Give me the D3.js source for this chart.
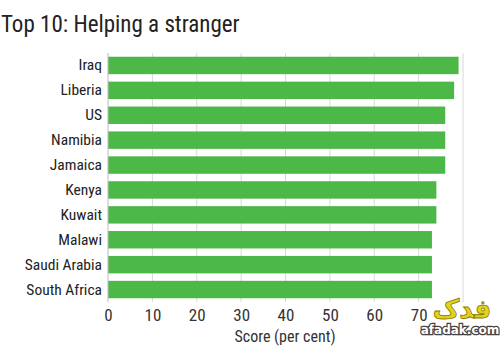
<!DOCTYPE html>
<html><head><meta charset="utf-8">
<script src="https://cdn.jsdelivr.net/npm/d3@7"></script>
<style>body{margin:0;background:#fff}</style>
</head><body>
<svg id="c" width="500" height="350"></svg>
<script>
const countries = ["Iraq","Liberia","US","Namibia","Jamaica","Kenya","Kuwait","Malawi","Saudi Arabia","South Africa"];
const scores = [79,78,76,76,76,74,74,73,73,73];
const ticks = [0,10,20,30,40,50,60,70,80];
const tickLabels = [0,10,20,30,40,50,60,70];
const titleText = "Top 10: Helping a stranger";
const axisTitle = "Score (per cent)";

const font = "'Liberation Sans Narrow','Roboto Condensed','DejaVu Sans Condensed',sans-serif";
const svg = d3.select("#c");
const m = {left:108, right:37, top:53, bottom:50};
const W = 500, H = 350;
const x = d3.scaleLinear().domain([0,80]).range([m.left, W - m.right]);
const y = d3.scaleBand().domain(countries).range([m.top, 302]).paddingInner(0.3).paddingOuter(0.15);

svg.append("text").attr("x",1).attr("y",32).attr("font-family",font)
  .attr("font-size",23).attr("fill","#222").text(titleText);

// gridlines
svg.append("g").selectAll("line").data(ticks.slice(1)).join("line")
  .attr("x1",d=>x(d)).attr("x2",d=>x(d)).attr("y1",m.top).attr("y2",302)
  .attr("stroke","#d8d8d8").attr("stroke-width",1);

svg.append("g").selectAll("rect").data(countries).join("rect")
  .attr("x",x(0)).attr("y",d=>y(d)).attr("height",y.bandwidth())
  .attr("width",(d,i)=>x(scores[i])-x(0)).attr("fill","#4cb848");

// axis line
svg.append("line").attr("x1",x(0)).attr("x2",x(0)).attr("y1",m.top).attr("y2",302)
  .attr("stroke","#bbb");

const yAxis = svg.append("g").attr("transform",`translate(${x(0)-4},0)`)
  .call(d3.axisLeft(y).tickSize(0).tickPadding(2));
yAxis.select(".domain").remove();
yAxis.selectAll("text").attr("font-family",font).attr("font-size",15.5).attr("fill","#222");

const xAxis = svg.append("g").attr("transform",`translate(0,306)`)
  .call(d3.axisBottom(x).tickValues(tickLabels).tickSize(0).tickPadding(3).tickFormat(d3.format("d")));
xAxis.select(".domain").remove();
xAxis.selectAll("text").attr("font-family",font).attr("font-size",17).attr("fill","#333");

svg.append("text").attr("x",285).attr("y",342).attr("text-anchor","middle")
  .attr("font-family",font).attr("font-size",16).attr("fill","#333").text(axisTitle);

// watermark
svg.append("text").attr("x",462).attr("y",318).attr("text-anchor","middle")
  .attr("font-family","'DejaVu Sans',sans-serif").attr("font-size",26).attr("font-weight","bold")
  .attr("fill","#e3d21c").attr("stroke","#8a7a00").attr("stroke-width",0.8).text("فدک");
svg.append("text").attr("x",460).attr("y",334).attr("text-anchor","middle")
  .attr("font-family","'DejaVu Sans',sans-serif").attr("font-size",12).attr("font-weight","bold")
  .attr("fill","#fff").attr("stroke","#444").attr("stroke-width",2.5).attr("paint-order","stroke").text("afadak.com");
</script>
</body></html>
